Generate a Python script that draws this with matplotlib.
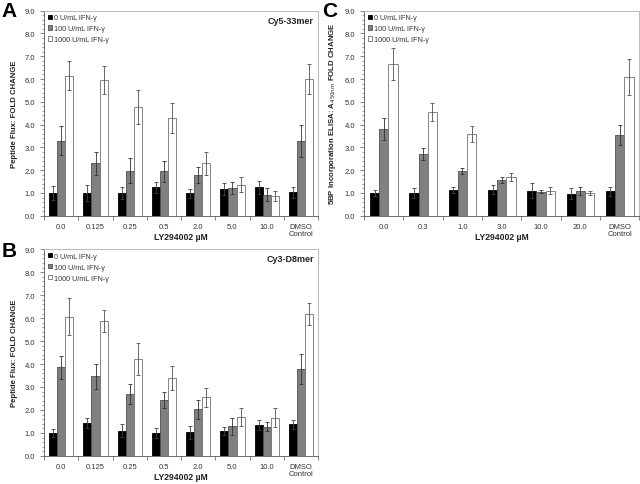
import numpy as np
import matplotlib
matplotlib.use("Agg")
import matplotlib.pyplot as plt
from matplotlib.ticker import MultipleLocator, FixedLocator

plt.rcParams['font.family'] = ['Liberation Sans', 'DejaVu Sans']

# Panel A: Cy5-33mer
a_doses = ['0.0', '0.125', '0.25', '0.5', '2.0', '5.0', '10.0', 'DMSO\nControl']
a_0 = [1.00, 1.00, 1.00, 1.25, 0.98, 1.18, 1.25, 1.03]
a_0_err = [0.30, 0.35, 0.25, 0.25, 0.20, 0.28, 0.28, 0.25]
a_100 = [3.30, 2.30, 1.97, 1.95, 1.78, 1.23, 0.93, 3.30]
a_100_err = [0.65, 0.50, 0.55, 0.47, 0.35, 0.27, 0.28, 0.70]
a_1000 = [6.15, 5.95, 4.77, 4.30, 2.30, 1.37, 0.88, 6.00]
a_1000_err = [0.65, 0.60, 0.75, 0.65, 0.50, 0.32, 0.22, 0.65]

# Panel B: Cy3-D8mer
b_doses = a_doses
b_0 = [1.00, 1.45, 1.10, 1.00, 1.02, 1.10, 1.35, 1.37]
b_0_err = [0.18, 0.22, 0.27, 0.22, 0.30, 0.17, 0.23, 0.20]
b_100 = [3.85, 3.47, 2.70, 2.45, 2.02, 1.28, 1.27, 3.78]
b_100_err = [0.50, 0.55, 0.45, 0.35, 0.43, 0.35, 0.20, 0.67]
b_1000 = [6.07, 5.88, 4.22, 3.40, 2.55, 1.68, 1.67, 6.18]
b_1000_err = [0.80, 0.48, 0.70, 0.52, 0.40, 0.40, 0.43, 0.48]

# Panel C: 5BP incorporation ELISA
c_doses = ['0.0', '0.3', '1.0', '3.0', '10.0', '20.0', 'DMSO\nControl']
c_0 = [1.00, 1.00, 1.12, 1.15, 1.10, 0.97, 1.07]
c_0_err = [0.13, 0.22, 0.13, 0.20, 0.33, 0.25, 0.20]
c_100 = [3.80, 2.72, 1.97, 1.58, 1.05, 1.10, 3.55]
c_100_err = [0.48, 0.27, 0.13, 0.13, 0.07, 0.17, 0.43]
c_1000 = [6.65, 4.57, 3.57, 1.70, 1.10, 1.00, 6.10]
c_1000_err = [0.70, 0.40, 0.35, 0.17, 0.15, 0.08, 0.78]

legend_labels = ['0 U/mL IFN-\u03b3', '100 U/mL IFN-\u03b3', '1000 U/mL IFN-\u03b3']


def draw_panel(ax, doses, series, errs, ylabel, tag=None, xlab_y=-0.078):
    x = np.arange(len(doses))
    w = 0.235
    fills = ['black', '#808080', 'white']
    edges = ['black', '#505050', '#707070']
    ecols = ['#404040', '#303030', '#505050']
    for i in range(3):
        ax.bar(x + (i - 1) * w, series[i], w, color=fills[i], edgecolor=edges[i],
               linewidth=0.6, label=legend_labels[i],
               yerr=errs[i], ecolor=ecols[i],
               error_kw=dict(elinewidth=0.6, capsize=1.6, capthick=0.6))
    ax.set_xlim(-0.5, len(doses) - 0.5)
    ax.set_ylim(0, 9)
    ax.yaxis.set_major_locator(MultipleLocator(1))
    ax.yaxis.set_minor_locator(MultipleLocator(0.2))
    ax.set_yticklabels(['%.1f' % v for v in ax.get_yticks()])
    ax.set_xticks(x)
    ax.set_xticklabels(doses, fontsize=5.5, color='#333333', linespacing=1.0)
    ax.xaxis.set_minor_locator(FixedLocator(np.arange(len(doses) + 1) - 0.5))
    ax.tick_params(axis='x', which='major', length=0, pad=5)
    ax.tick_params(axis='x', which='minor', length=3, width=0.5, color='#555555')
    ax.tick_params(axis='y', which='major', length=3, width=0.5, labelsize=5.5,
                   labelcolor='#333333', color='#555555')
    ax.tick_params(axis='y', which='minor', length=1.5, width=0.4, color='#555555')
    for s in ['top', 'right']:
        ax.spines[s].set_color('#b0b0b0')
        ax.spines[s].set_linewidth(0.6)
    for s in ['left', 'bottom']:
        ax.spines[s].set_color('#555555')
        ax.spines[s].set_linewidth(0.6)
    ax.set_xlabel('LY294002 \u00b5M', fontsize=6.2, fontweight='bold', color='#222222')
    ax.xaxis.set_label_coords(0.5, xlab_y)
    ax.set_ylabel(ylabel, fontsize=5.6, fontweight='bold', color='#222222', labelpad=5)
    leg = ax.legend(loc='upper left', frameon=False, fontsize=5.2, handlelength=0.55,
                    handleheight=0.55, handletextpad=0.3, labelspacing=0.55,
                    borderaxespad=0.3, borderpad=0.2)
    for t in leg.get_texts():
        t.set_color('#333333')
    if tag:
        ax.text(0.985, 0.975, tag, transform=ax.transAxes, ha='right', va='top',
                fontsize=6.5, fontweight='bold', color='#222222')


fig = plt.figure(figsize=(6.4, 4.85), dpi=100)
axA = fig.add_axes([0.069, 0.553, 0.428, 0.423])
axB = fig.add_axes([0.069, 0.058, 0.428, 0.426])
axC = fig.add_axes([0.569, 0.553, 0.430, 0.423])

draw_panel(axA, a_doses, [a_0, a_100, a_1000], [a_0_err, a_100_err, a_1000_err],
           'Peptide Flux: FOLD CHANGE', 'Cy5-33mer')
draw_panel(axB, b_doses, [b_0, b_100, b_1000], [b_0_err, b_100_err, b_1000_err],
           'Peptide Flux: FOLD CHANGE', 'Cy3-D8mer')
draw_panel(axC, c_doses, [c_0, c_100, c_1000], [c_0_err, c_100_err, c_1000_err],
           r'5BP Incorporation ELISA: A$_{\mathit{450nm}}$ FOLD CHANGE')

fig.text(0.003, 0.995, 'A', fontsize=15, fontweight='bold', va='top', ha='left')
fig.text(0.003, 0.502, 'B', fontsize=15, fontweight='bold', va='top', ha='left')
fig.text(0.503, 0.995, 'C', fontsize=15, fontweight='bold', va='top', ha='left')

fig.savefig('out.png', dpi=100)
